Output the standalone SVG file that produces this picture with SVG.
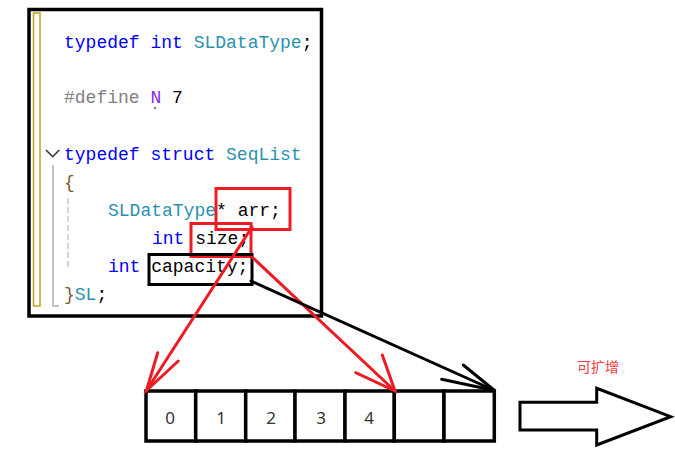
<svg xmlns="http://www.w3.org/2000/svg" width="675" height="461" viewBox="0 0 675 461">
<style>
.code{font-family:"Liberation Mono","DejaVu Sans Mono",monospace;font-size:18px;fill:#000}
.kw{fill:#0000ff}.ty{fill:#2b91af}.pp{fill:#808080}.mac{fill:#8a2be2}.br{fill:#7a5a30}
.frame{fill:none;stroke:#000;stroke-width:3.5}
.rbox{fill:none;stroke:#ed1c24;stroke-width:3}
.bbox{fill:none;stroke:#000;stroke-width:3}
.cell{fill:#fff;stroke:#000;stroke-width:3.5}
.num{font-family:"Noto Sans","Open Sans",sans-serif;font-size:17px;fill:#333;text-anchor:middle}
.red{stroke:#ed1c24;stroke-width:3;fill:none;stroke-linecap:round}
.blk{stroke:#000;stroke-width:3;fill:none;stroke-linecap:round}
</style>
<rect width="675" height="461" fill="#fff"/>
<g id="code-panel">
<rect class="frame" x="29" y="9.5" width="292.5" height="306.5" fill="#fff"/>
<rect x="33.5" y="13" width="6.5" height="293" fill="none" stroke="#c0a020" stroke-width="1.5"/>
<path d="M53 165 V306 H59" fill="none" stroke="#b0b0b0" stroke-width="1.5"/>
<path d="M68 198 V268" fill="none" stroke="#c8c8c8" stroke-width="1.5" stroke-dasharray="6 3"/>
<path d="M46 150 L52.7 156.7 L59.3 150" fill="none" stroke="#333" stroke-width="1.6"/>
<circle cx="155" cy="108" r="1.2" fill="#808080"/>
<text class="code" x="64" y="48"><tspan class="kw">typedef</tspan> <tspan class="kw">int</tspan> <tspan class="ty">SLDataType</tspan>;</text>
<text class="code" x="64" y="103"><tspan class="pp">#define</tspan> <tspan class="mac">N</tspan> 7</text>
<text class="code" x="64" y="160"><tspan class="kw">typedef</tspan> <tspan class="kw">struct</tspan> <tspan class="ty">SeqList</tspan></text>
<text class="code br" x="64" y="188">{</text>
<text class="code" x="108" y="216"><tspan class="ty">SLDataType</tspan>* arr;</text>
<text class="code" x="152" y="244"><tspan class="kw">int</tspan> size;</text>
<text class="code" x="108" y="272"><tspan class="kw">int</tspan> capacity;</text>
<text class="code" x="64" y="300"><tspan class="br">}</tspan><tspan class="ty">SL</tspan>;</text>
</g>
<g id="arr-box"><rect class="rbox" x="216" y="188.5" width="74" height="41"/></g>
<g id="size-box"><rect class="rbox" x="191" y="223.5" width="60" height="33"/></g>
<g id="capacity-box"><rect class="bbox" x="149" y="254.5" width="103" height="30"/></g>
<g id="array">
<rect class="cell" x="146" y="391" width="49.7" height="50"/>
<rect class="cell" x="195.7" y="391" width="50" height="50"/>
<rect class="cell" x="245.7" y="391" width="49.3" height="50"/>
<rect class="cell" x="295" y="391" width="50" height="50"/>
<rect class="cell" x="345" y="391" width="49.3" height="50"/>
<rect class="cell" x="394.3" y="391" width="49.7" height="50"/>
<rect class="cell" x="444" y="391" width="50.3" height="50"/>
<text class="num" x="170" y="424">0</text>
<text class="num" x="221" y="424">1</text>
<text class="num" x="271" y="424">2</text>
<text class="num" x="321" y="424">3</text>
<text class="num" x="369" y="424">4</text>
</g>
<g id="expand-arrow">
<polygon points="520,402.3 596.7,402.3 596.7,388.3 670.7,416.7 596.7,445 596.7,430 520,430" fill="#fff" stroke="#000" stroke-width="3" stroke-linejoin="miter"/>
</g>
<g id="expand-label">
<text x="598" y="372" text-anchor="middle" font-family="'Noto Sans CJK SC',sans-serif" font-size="14" fill="#f03c3c">可扩增</text>
</g>
<g id="connectors">
<path class="red" d="M252 227 L146.5 390.5"/>
<path class="red" d="M157.7 352.7 L146.5 390.5 L178.3 361"/>
<path class="red" d="M252 257 L395 391"/>
<path class="red" d="M382.3 355 L395 391 L355.7 372.7"/>
<path class="blk" d="M251 281 L494.5 390.5"/>
<path class="blk" d="M463.3 365 L494.5 390.5 L441.7 379.3"/>
</g>
</svg>
